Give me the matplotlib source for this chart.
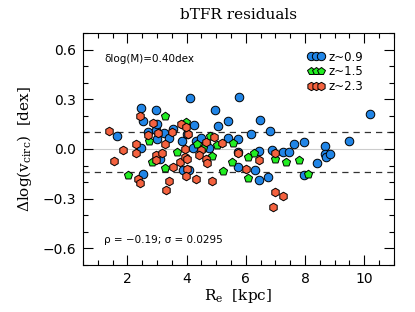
import matplotlib
matplotlib.use("Agg")
import matplotlib.pyplot as plt
from matplotlib.lines import Line2D
from matplotlib.ticker import MultipleLocator

# z~0.9 (blue circles)
re_z09 = [2.47, 2.98, 2.54, 1.66, 4.13, 4.97, 4.26, 5.07, 5.41, 5.78, 2.68, 3.22,
          3.01, 3.39, 3.55, 3.86, 4.03, 4.33, 4.67, 4.77, 4.20, 5.41, 5.75, 5.72,
          5.75, 3.11, 2.54, 3.89, 4.09, 2.98, 6.49, 6.80, 6.19, 6.46, 6.90, 7.24,
          7.47, 7.64, 7.98, 8.66, 8.66, 8.72, 8.86, 9.47, 10.21, 8.42, 6.32, 6.43,
          6.76, 7.95, 3.01, 2.47, 4.47]
dv_z09 = [0.247, 0.235, 0.169, 0.078, 0.307, 0.235, 0.145, 0.139, 0.169, 0.313, 0.102, 0.096,
          0.060, 0.066, 0.120, 0.048, 0.090, 0.048, 0.036, 0.006, 0.006, 0.066, 0.060, -0.018,
          -0.108, -0.060, -0.151, -0.127, -0.127, 0.114, 0.175, 0.108, 0.090, -0.012, -0.006, -0.018,
          -0.018, 0.030, 0.042, 0.018, -0.030, -0.048, -0.030, 0.048, 0.211, -0.084, -0.127, -0.187,
          -0.169, -0.157, 0.151, 0.006, 0.066]

# z~1.5 (green pentagons)
re_z15 = [3.28, 2.74, 3.99, 3.66, 2.84, 3.28, 2.03, 4.36, 4.57, 4.80, 4.87, 5.01,
          5.24, 5.55, 5.58, 6.09, 6.26, 6.09, 7.00, 7.37, 7.78, 8.11]
dv_z15 = [0.199, 0.048, 0.163, -0.018, -0.078, -0.114, -0.157, 0.030, 0.006, 0.078, -0.042, 0.024,
          -0.133, -0.078, 0.036, -0.048, -0.024, -0.175, -0.060, -0.078, -0.066, -0.151]

# z~2.3 (red hexagons)
re_z23 = [1.39, 1.86, 1.56, 2.30, 2.30, 2.44, 2.88, 2.68, 3.05, 3.28, 3.49, 2.98,
          3.18, 2.95, 3.32, 3.39, 3.55, 3.76, 3.93, 3.96, 4.03, 4.06, 3.82, 3.99,
          4.03, 3.99, 4.33, 4.87, 4.47, 4.43, 4.64, 4.67, 4.70, 4.94, 5.21, 2.37,
          2.44, 5.72, 6.43, 7.00, 6.02, 6.97, 7.27, 6.93]
dv_z23 = [0.108, -0.006, -0.072, 0.030, -0.024, 0.199, 0.157, 0.084, 0.096, 0.030, 0.102, -0.036,
          -0.024, -0.066, -0.247, -0.193, -0.108, -0.078, -0.048, 0.000, -0.060, 0.090, 0.151, 0.133,
          -0.120, -0.163, -0.181, -0.193, -0.006, -0.036, -0.060, 0.042, -0.084, 0.072, 0.036, -0.181,
          -0.205, -0.024, -0.066, -0.024, -0.120, -0.259, -0.283, -0.349]

scatter_upper = 0.10
scatter_lower = -0.137
labels = ["z~0.9", "z~1.5", "z~2.3"]
x_ticks = [2, 4, 6, 8, 10]
y_ticks = [-0.6, -0.3, 0.0, 0.3, 0.6]

c_blue = "#2185e6"
c_green = "#22ee22"
c_red = "#f4623f"

plt.rcParams["mathtext.fontset"] = "dejavuserif"
fig = plt.figure(figsize=(4.15, 3.12), dpi=100)
ax = fig.add_axes([0.200, 0.151, 0.749, 0.743])

ax.axhline(0.0, color="#cccccc", lw=0.8, zorder=1)
ax.axhline(scatter_upper, color="#333333", lw=0.9, ls=(0, (5, 4)), zorder=1)
ax.axhline(scatter_lower, color="#333333", lw=0.9, ls=(0, (5, 4)), zorder=1)

ms = 38
ax.scatter(re_z09, dv_z09, s=ms, marker="o", c=c_blue, edgecolors="black", linewidths=0.7, zorder=3)
ax.scatter(re_z15, dv_z15, s=ms, marker="p", c=c_green, edgecolors="black", linewidths=0.7, zorder=3)
ax.scatter(re_z23, dv_z23, s=ms, marker="h", c=c_red, edgecolors="black", linewidths=0.7, zorder=3)

ax.set_xlim(0.5, 11.0)
ax.set_ylim(-0.7, 0.7)
ax.set_xticks(x_ticks)
ax.set_yticks(y_ticks)
ax.set_yticklabels([f"{v:.1f}".replace("-", "\u2212") for v in y_ticks])
ax.xaxis.set_minor_locator(MultipleLocator(0.5))
ax.yaxis.set_minor_locator(MultipleLocator(0.1))
ax.tick_params(which="both", direction="in", top=True, right=True, labelsize=10, width=0.8)
ax.tick_params(which="major", length=7, pad=5)
ax.tick_params(which="minor", length=3.5)
for sp in ax.spines.values():
    sp.set_linewidth(0.8)

ax.set_title("bTFR residuals", family="DejaVu Serif", fontsize=11, pad=10)
ax.set_xlabel(r"$\mathrm{R_e}\ \ [\mathrm{kpc}]$", fontsize=11, labelpad=1)
ax.set_ylabel(r"$\Delta\log(\mathrm{v_{circ}})\ \ [\mathrm{dex}]$", fontsize=11, labelpad=6)

ax.text(0.068, 0.888, "\u03b4log(M)=0.40dex", transform=ax.transAxes, fontsize=7.5, va="center")
ax.text(0.068, 0.108, "\u03c1 = \u22120.19; \u03c3 = 0.0295", transform=ax.transAxes, fontsize=7.5, va="center")

handles = [
    Line2D([], [], ls="none", marker="o", markersize=6, mfc=c_blue, mec="black", mew=0.7),
    Line2D([], [], ls="none", marker="p", markersize=6, mfc=c_green, mec="black", mew=0.7),
    Line2D([], [], ls="none", marker="h", markersize=6, mfc=c_red, mec="black", mew=0.7),
]
ax.legend(handles, labels, loc="upper left", bbox_to_anchor=(0.715, 0.935), frameon=False,
          numpoints=3, handlelength=1.4, handletextpad=0.35, labelspacing=0.15, fontsize=8.5,
          borderaxespad=0, borderpad=0.2)

fig.savefig("out.png", dpi=100)
